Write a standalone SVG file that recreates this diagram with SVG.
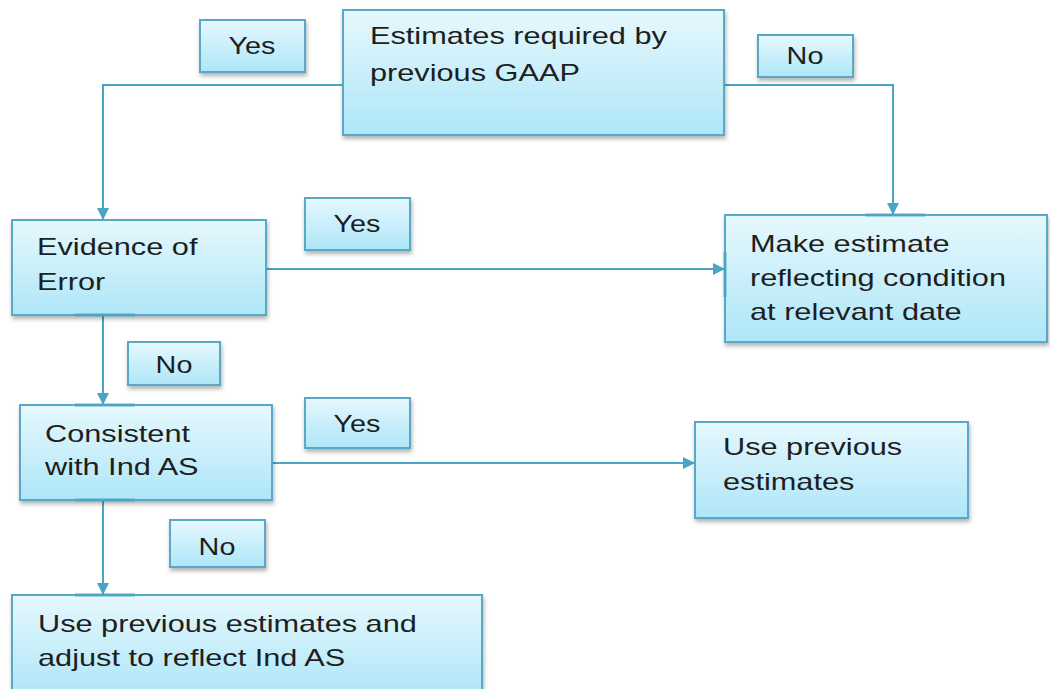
<svg xmlns="http://www.w3.org/2000/svg" width="1050" height="689" viewBox="0 0 1050 689">
<style>
.box{fill:url(#g);stroke:#58a9c6;stroke-width:2;filter:url(#sh)}
.t{font-family:"Liberation Sans",Arial,sans-serif;font-size:24px;fill:#1e1e1e}
.c{text-anchor:middle}
.ln{fill:none;stroke:#4aa5c4;stroke-width:2}
.tab{stroke:#4aa5c4;stroke-width:3;opacity:0.85}
</style>
<defs>
<linearGradient id="g" x1="0" y1="0" x2="0" y2="1">
<stop offset="0" stop-color="#e6f8fd"/>
<stop offset="1" stop-color="#aee6f8"/>
</linearGradient>
<filter id="sh" x="-10%" y="-10%" width="125%" height="135%">
<feDropShadow dx="1" dy="3" stdDeviation="2" flood-color="#000" flood-opacity="0.3"/>
</filter>
<marker id="a" markerWidth="12" markerHeight="12" refX="11" refY="6" orient="auto" markerUnits="userSpaceOnUse" viewBox="0 0 12 12">
<path d="M0,0 L12,6 L0,12 Z" fill="#4aa5c4"/>
</marker>
</defs>
<g id="connectors">
<path class="ln" d="M343,85 H103 V219" marker-end="url(#a)"/>
<path class="ln" d="M723,85 H893 V214" marker-end="url(#a)"/>
<path class="ln" d="M266,269 H724" marker-end="url(#a)"/>
<path class="ln" d="M103,315 V404" marker-end="url(#a)"/>
<path class="ln" d="M272,463 H694" marker-end="url(#a)"/>
<path class="ln" d="M103,500 V594" marker-end="url(#a)"/>
</g>
<g id="n-top"><rect class="box" x="343" y="10" width="381" height="125"/>
<text class="t" transform="translate(370 44) scale(1.28 1)">Estimates required by</text><text class="t" transform="translate(370 81) scale(1.28 1)">previous GAAP</text></g>
<g id="l-yes1"><rect class="box" x="200" y="20" width="105" height="52"/><text class="t c" transform="translate(252 54) scale(1.2 1)">Yes</text></g>
<g id="l-no1"><rect class="box" x="758" y="35" width="95" height="42"/><text class="t c" transform="translate(805 64) scale(1.2 1)">No</text></g>
<g id="n-evidence"><rect class="box" x="12" y="220" width="254" height="95"/>
<text class="t" transform="translate(37 255) scale(1.28 1)">Evidence of</text><text class="t" transform="translate(37 290) scale(1.28 1)">Error</text>
<line class="tab" x1="75" y1="315" x2="135" y2="315"/></g>
<g id="l-yes2"><rect class="box" x="305" y="198" width="105" height="52"/><text class="t c" transform="translate(357 232) scale(1.2 1)">Yes</text></g>
<g id="n-make"><rect class="box" x="725" y="215" width="322" height="127"/>
<text class="t" transform="translate(750 252) scale(1.28 1)">Make estimate</text><text class="t" transform="translate(750 286) scale(1.28 1)">reflecting condition</text><text class="t" transform="translate(750 320) scale(1.28 1)">at relevant date</text>
<line class="tab" x1="865" y1="215" x2="925" y2="215"/><line class="tab" x1="725" y1="252" x2="725" y2="297"/></g>
<g id="l-no2"><rect class="box" x="128" y="342" width="92" height="43"/><text class="t c" transform="translate(174 373) scale(1.2 1)">No</text></g>
<g id="n-consistent"><rect class="box" x="20" y="405" width="252" height="95"/>
<text class="t" transform="translate(45 442) scale(1.28 1)">Consistent</text><text class="t" transform="translate(45 475) scale(1.28 1)">with Ind AS</text>
<line class="tab" x1="75" y1="405" x2="135" y2="405"/><line class="tab" x1="75" y1="500" x2="135" y2="500"/></g>
<g id="l-yes3"><rect class="box" x="305" y="398" width="105" height="50"/><text class="t c" transform="translate(357 432) scale(1.2 1)">Yes</text></g>
<g id="n-useprev"><rect class="box" x="695" y="422" width="273" height="96"/>
<text class="t" transform="translate(723 455) scale(1.28 1)">Use previous</text><text class="t" transform="translate(723 490) scale(1.28 1)">estimates</text></g>
<g id="l-no3"><rect class="box" x="170" y="520" width="95" height="47"/><text class="t c" transform="translate(217 555) scale(1.2 1)">No</text></g>
<g id="n-bottom"><rect class="box" x="12" y="595" width="470" height="100"/>
<text class="t" transform="translate(38 632) scale(1.28 1)">Use previous estimates and</text><text class="t" transform="translate(38 666) scale(1.28 1)">adjust to reflect Ind AS</text>
<line class="tab" x1="75" y1="595" x2="135" y2="595"/></g>
</svg>
